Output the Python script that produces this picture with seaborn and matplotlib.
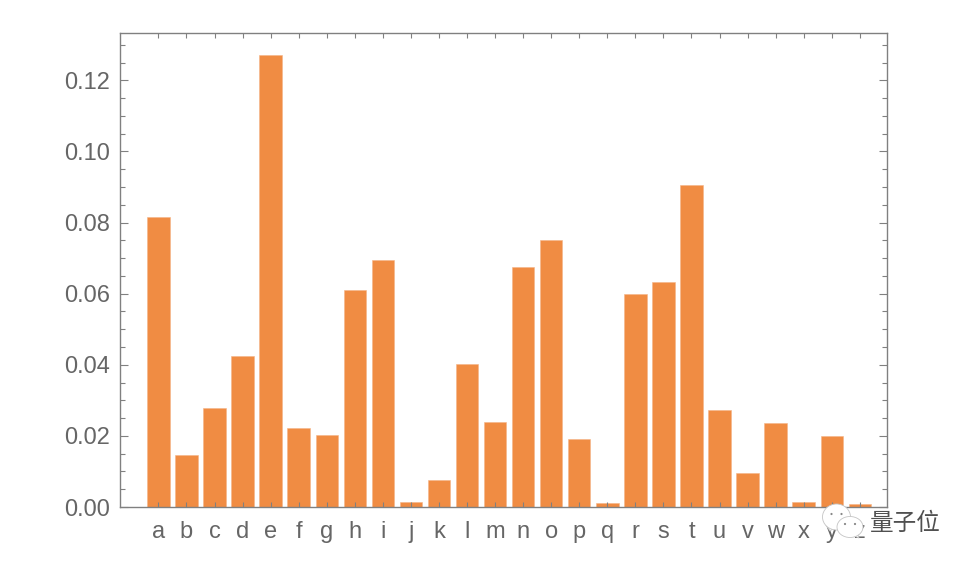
import matplotlib
matplotlib.use("Agg")
import matplotlib.pyplot as plt
import seaborn as sns
import pandas as pd
from matplotlib.patches import Ellipse, Polygon
from matplotlib.ticker import MultipleLocator, FormatStrFormatter
from matplotlib.transforms import IdentityTransform

letters = list("abcdefghijklmnopqrstuvwxyz")
frequency = [0.0816, 0.0146, 0.0278, 0.0425, 0.1271, 0.0222, 0.0203, 0.0610,
             0.0695, 0.0014, 0.0076, 0.0402, 0.0239, 0.0675, 0.0751, 0.0191,
             0.0010, 0.0599, 0.0633, 0.0906, 0.0273, 0.0096, 0.0236, 0.0015,
             0.0200, 0.0008]

sns.set_theme(style="white")
plt.rcParams["font.family"] = ["Liberation Sans", "DejaVu Sans"]

W, H = 972, 566
fig = plt.figure(figsize=(W / 100, H / 100), dpi=100, facecolor="white")
ax = fig.add_axes([120 / W, 1 - 507 / H, 767 / W, 474 / H])

df = pd.DataFrame({"letter": letters, "frequency": frequency})
sns.barplot(data=df, x="letter", y="frequency", ax=ax, color="#F08C43",
            saturation=1, width=0.8, edgecolor="#F5B487", linewidth=0.4, zorder=2)

ax.set_xlim(-1.37, 25.97)
ax.set_ylim(0, 0.1333)
ax.set_xlabel("")
ax.set_ylabel("")
ax.yaxis.set_major_locator(MultipleLocator(0.02))
ax.yaxis.set_minor_locator(MultipleLocator(0.005))
ax.yaxis.set_major_formatter(FormatStrFormatter("%.2f"))

ax.tick_params(axis="y", which="major", direction="in", length=6, width=0.8, color="#808080",
               left=True, right=True, labelsize=17, labelcolor="#666666", pad=7)
ax.tick_params(axis="y", which="minor", direction="in", length=3.5, width=0.8, color="#808080",
               left=True, right=True)
ax.tick_params(axis="x", which="major", direction="in", length=3.5, width=0.8, color="#808080",
               bottom=True, top=True, labelsize=17, labelcolor="#666666", pad=10)
ax.set_axisbelow(False)
for s in ax.spines.values():
    s.set_color("#808080")
    s.set_linewidth(1.0)

# watermark
tr = IdentityTransform()
def bubble(cx, cy, rx, ry, tail):
    py = H - cy
    fig.add_artist(Polygon([(x, H - y) for x, y in tail], closed=True, transform=tr,
                           facecolor="white", edgecolor="#C4C4C4", lw=0.6, zorder=10))
    fig.add_artist(Ellipse((cx, py), 2 * rx, 2 * ry, transform=tr,
                           facecolor="white", edgecolor="#C4C4C4", lw=0.6, zorder=11))
    for dx in (-5, 5):
        fig.add_artist(Ellipse((cx + dx, py + 3), 2.2, 2.2, transform=tr,
                               facecolor="#888888", edgecolor="none", zorder=12))

bubble(836.5, 517, 14, 13, [(826, 525), (830, 531), (834, 528)])
bubble(850, 527, 13, 10.5, [(852, 535), (859, 538), (857, 533)])
fig.text(905 / W, 1 - 523 / H, "量子位", ha="center", va="center", fontsize=17,
         color="#505050", family=["Noto Sans CJK SC", "DejaVu Sans"], zorder=13)

fig.savefig("out.png", dpi=100, facecolor="white")
